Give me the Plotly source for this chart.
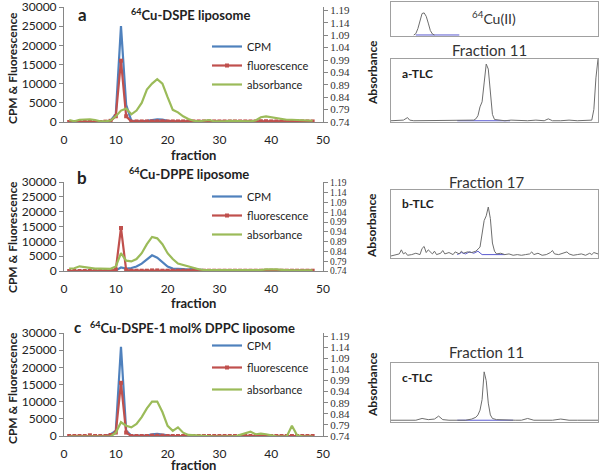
import plotly.graph_objects as go

W, H = 601, 474

fractions = list(range(1, 49))

# panel a: 64Cu-DSPE liposome
a_cpm = [0, 0, 0, 0, 0, 0, 0, 100, 400, 2000, 25000, 4500, 300, 200, 200, 300, 500, 700,
         600, 300, 200, 100, 100, 100, 100, 100, 100, 100, 100, 100, 100, 100, 100, 100, 100, 100,
         100, 100, 100, 100, 100, 100, 100, 100, 100, 100, 100, 100]
a_fluor = [0, 0, 0, 0, 0, 0, 0, 100, 300, 1500, 16000, 1500, 100, 150, 150, 150, 150, 200,
           200, 150, 150, 150, 150, 150, 150, 150, 150, 150, 150, 150, 150, 150, 150, 150, 150, 150,
           150, 200, 200, 150, 150, 150, 150, 150, 150, 150, 150, 150]
a_abs = [0.748, 0.743, 0.749, 0.751, 0.751, 0.748, 0.743, 0.743, 0.746, 0.763, 0.786, 0.794,
         0.771, 0.786, 0.817, 0.871, 0.895, 0.913, 0.895, 0.840, 0.789, 0.779, 0.763, 0.752,
         0.745, 0.743, 0.746, 0.748, 0.743, 0.742, 0.743, 0.745, 0.745, 0.743, 0.742, 0.743,
         0.746, 0.759, 0.763, 0.759, 0.754, 0.751, 0.749, 0.749, 0.749, 0.748, 0.746, 0.745]

# panel b: 64Cu-DPPE liposome
b_cpm = [0, 0, 0, 0, 0, 0, 0, 0, 0, 200, 1200, 800, 1000, 1500, 2500, 4000, 5300, 4500,
         3000, 1500, 800, 600, 600, 500, 800, 500, 200, 100, 100, 100, 100, 100, 100, 100, 100, 100,
         100, 100, 100, 100, 100, 100, 100, 100, 100, 100, 100, 100]
b_fluor = [0, 0, 0, 0, 0, 0, 0, 0, 0, 500, 14500, 300, 100, 100, 100, 100, 200, 200,
           100, 100, 100, 100, 100, 100, 100, 100, 100, 100, 100, 100, 100, 100, 100, 100, 100, 100,
           100, 100, 100, 100, 100, 100, 100, 100, 100, 100, 100, 100]
b_abs = [0.752, 0.754, 0.764, 0.760, 0.755, 0.752, 0.752, 0.751, 0.751, 0.763, 0.831, 0.793,
         0.789, 0.801, 0.831, 0.877, 0.914, 0.907, 0.877, 0.831, 0.801, 0.778, 0.770, 0.763,
         0.754, 0.749, 0.745, 0.745, 0.746, 0.745, 0.745, 0.745, 0.745, 0.743, 0.743, 0.743,
         0.743, 0.745, 0.748, 0.749, 0.748, 0.746, 0.743, 0.743, 0.743, 0.743, 0.743, 0.743]

# panel c: 64Cu-DSPE-1 mol% DPPC liposome
c_cpm = [0, 0, 0, 0, 0, 0, 0, 0, 500, 1500, 26000, 1500, 100, 100, 100, 100, 500, 600,
         400, 100, 0, 0, 0, 0, 0, 0, 0, 0, 0, 0, 0, 0, 0, 0, 0, 0,
         0, 0, 0, 0, 0, 0, 0, 0, 0, 0, 0, 0]
c_fluor = [0, 0, 0, 0, 200, 0, 0, 0, 300, 1000, 15500, 1000, 0, 0, 0, 0, 100, 100,
           100, 0, 0, 0, 0, 0, 0, 0, 0, 0, 0, 0, 0, 0, 0, 0, 0, 0,
           0, 0, 0, 0, 0, 0, 0, 0, 0, 0, 0, 0]
c_abs = [0.737, 0.737, 0.737, 0.737, 0.737, 0.737, 0.737, 0.737, 0.738, 0.755, 0.802, 0.786,
         0.779, 0.794, 0.825, 0.864, 0.895, 0.895, 0.848, 0.786, 0.763, 0.779, 0.755, 0.745,
         0.743, 0.743, 0.738, 0.737, 0.737, 0.737, 0.737, 0.737, 0.738, 0.745, 0.752, 0.759,
         0.748, 0.751, 0.748, 0.743, 0.738, 0.737, 0.738, 0.786, 0.743, 0.738, 0.737, 0.737]

abs_ticks = [0.74, 0.79, 0.84, 0.89, 0.94, 0.99, 1.04, 1.09, 1.14, 1.19]
frac_ticks = [0, 10, 20, 30, 40, 50]

# TLC scans (position along strip, relative signal)
tlc_cu_pos = [11, 12, 13, 14, 15, 16, 17, 18, 19, 20, 21]
tlc_cu_signal = [0.03, 0.07, 0.22, 0.48, 0.66, 0.68, 0.58, 0.38, 0.16, 0.06, 0.03]
tlc_cu_base_pos = [12, 33]
tlc_cu_base = [0.03, 0.03]

tlc_a_pos = [0, 3, 6, 8, 9, 11, 14, 17, 20, 24, 28, 31, 34, 37, 40, 41, 42, 43, 44, 45, 46, 47,
             48, 49, 50, 52, 55, 58, 62, 66, 70, 74, 76, 78, 82, 86, 90, 94, 96, 97, 98, 99, 100]
tlc_a_signal = [0.02, 0.02, 0.03, 0.07, 0.03, 0.02, 0.02, 0.03, 0.02, 0.02, 0.03, 0.02, 0.02,
                0.03, 0.03, 0.05, 0.1, 0.24, 0.32, 0.62, 0.92, 0.84, 0.42, 0.12, 0.04, 0.03,
                0.02, 0.03, 0.02, 0.02, 0.03, 0.02, 0.05, 0.02, 0.02, 0.03, 0.02, 0.02, 0.02,
                0.03, 0.2, 0.7, 1.0]
tlc_a_base_pos = [32, 57.5]
tlc_a_base = [0.02, 0.02]

tlc_b_pos = [0, 2, 4, 5, 6, 7, 8, 10, 12, 14, 15, 16, 17, 18, 20, 21, 22, 24, 25, 26, 28, 30,
             31, 33, 34, 35, 37, 39, 41, 43, 44, 45, 46, 47, 48, 49, 50, 51, 53, 55, 57, 59, 61,
             63, 65, 67, 68, 69, 71, 73, 75, 77, 78, 79, 81, 83, 85, 86, 88, 90, 92, 94, 96, 97,
             98, 100]
tlc_b_signal = [0.03, 0.04, 0.06, 0.12, 0.06, 0.08, 0.04, 0.05, 0.07, 0.05, 0.14, 0.17, 0.08,
                0.12, 0.06, 0.1, 0.05, 0.07, 0.11, 0.06, 0.08, 0.05, 0.09, 0.06, 0.1, 0.07, 0.09,
                0.08, 0.1, 0.16, 0.35, 0.55, 0.62, 0.75, 0.58, 0.22, 0.1, 0.06, 0.07, 0.05, 0.06,
                0.04, 0.05, 0.04, 0.05, 0.06, 0.09, 0.05, 0.07, 0.04, 0.05, 0.08, 0.11, 0.06, 0.05,
                0.07, 0.09, 0.06, 0.04, 0.05, 0.06, 0.04, 0.07, 0.05, 0.08, 0.06]
tlc_b_base_pos = [32, 34, 36, 38, 40, 42, 44, 55]
tlc_b_base = [0.05, 0.08, 0.06, 0.09, 0.07, 0.1, 0.05, 0.05]

tlc_c_pos = [0, 4, 8, 12, 15, 18, 21, 23, 25, 28, 32, 36, 39, 41, 42, 43, 44, 45, 46, 47, 48,
             49, 51, 55, 60, 63, 66, 69, 73, 78, 82, 86, 90, 94, 98, 100]
tlc_c_signal = [0.03, 0.03, 0.04, 0.03, 0.06, 0.04, 0.05, 0.1, 0.04, 0.03, 0.03, 0.03, 0.05,
                0.08, 0.12, 0.2, 0.38, 0.85, 0.7, 0.32, 0.12, 0.06, 0.04, 0.03, 0.03, 0.03, 0.06,
                0.03, 0.03, 0.03, 0.05, 0.03, 0.03, 0.03, 0.04, 0.03]
tlc_c_base_pos = [32, 59]
tlc_c_base = [0.03, 0.03]

BLUE, RED, GREEN = '#4F81BD', '#C0504D', '#9BBB59'
FONT = 'Lato, Carlito, Calibri, sans-serif'
AXIS = '#868686'


def px_x(p):
    return p / W


def px_y(p):
    return 1 - p / H


fig = go.Figure()
layout = dict(width=W, height=H, margin=dict(l=0, r=0, t=0, b=0, autoexpand=False),
              paper_bgcolor='white', plot_bgcolor='rgba(0,0,0,0)',
              font=dict(family=FONT, size=12, color='#222'), showlegend=True)

# left panels: (no, top px, bottom px, secondary top, data..., legend, legend top, gap, right tick size)
panels = [
    (1, 7, 122, 1.2037, a_cpm, a_fluor, a_abs, 'legend', 32, 0, 11),
    (2, 182, 271, 1.195, b_cpm, b_fluor, b_abs, 'legend2', 182, 0, 9.5),
    (3, 333, 436, 1.2035, c_cpm, c_fluor, c_abs, 'legend3', 331, 3, 11),
]

for i, top, bot, atop, cpm, flu, ab, leg, legtop, gap, rsize in panels:
    xa = 'x' if i == 1 else f'x{i}'
    ya = 'y' if i == 1 else f'y{2 * i - 1}'
    ya2 = f'y{2 * i}'
    fig.add_trace(go.Scatter(x=fractions, y=cpm, name='CPM', mode='lines',
                             line=dict(color=BLUE, width=2.2), xaxis=xa, yaxis=ya,
                             legend=leg, legendgroup=f'{leg}cpm'))
    fig.add_trace(go.Scatter(x=fractions, y=flu, name='fluorescence', mode='lines+markers',
                             line=dict(color=RED, width=2.2),
                             marker=dict(symbol='square', size=4, color=RED),
                             xaxis=xa, yaxis=ya, legend=leg, legendgroup=f'{leg}flu'))
    fig.add_trace(go.Scatter(x=fractions, y=ab, name='absorbance', mode='lines',
                             line=dict(color=GREEN, width=2.2), xaxis=xa, yaxis=ya2,
                             legend=leg, legendgroup=f'{leg}abs'))

    xkey = 'xaxis' if i == 1 else f'xaxis{i}'
    ykey = 'yaxis' if i == 1 else f'yaxis{2 * i - 1}'
    y2key = f'yaxis{2 * i}'
    dom_y = [px_y(bot), px_y(top)]
    layout[xkey] = dict(domain=[px_x(64), px_x(323)], range=[0, 50], tickvals=frac_ticks,
                        anchor=ya, showline=True, linecolor=AXIS, showgrid=False,
                        zeroline=False, ticks='', ticklabelstandoff=7, automargin=False,
                        ticklabeloverflow='allow', tickfont=dict(size=12, color='#222'))
    layout[ykey] = dict(domain=dom_y, range=[0, 30000], dtick=5000, tickformat='d', anchor=xa,
                        showline=True, linecolor=AXIS, showgrid=False, zeroline=False,
                        ticks='outside', ticklen=4, tickcolor=AXIS, automargin=False,
                        ticklabeloverflow='allow', tickfont=dict(size=12, color='#222'))
    layout[y2key] = dict(overlaying=ya, side='right', anchor=xa, range=[0.74, atop],
                         tickvals=abs_ticks, tickformat='.2f', showline=True, linecolor=AXIS,
                         showgrid=False, zeroline=False, ticks='outside', ticklen=4,
                         tickcolor=AXIS, automargin=False, ticklabeloverflow='allow',
                         tickfont=dict(family='Liberation Serif, serif', size=rsize, color='#333'))
    layout[leg] = dict(x=px_x(207), y=px_y(legtop), xanchor='left', yanchor='top',
                       bgcolor='rgba(0,0,0,0)', font=dict(size=11, color='#222'),
                       itemwidth=30, tracegroupgap=gap)

# TLC boxes: (x axis no, y axis no, top px, bottom px, scan, baseline)
tlc = [
    (4, 7, 2, 36, tlc_cu_pos, tlc_cu_signal, tlc_cu_base_pos, tlc_cu_base),
    (5, 8, 59, 122, tlc_a_pos, tlc_a_signal, tlc_a_base_pos, tlc_a_base),
    (6, 9, 190, 258, tlc_b_pos, tlc_b_signal, tlc_b_base_pos, tlc_b_base),
    (7, 10, 363, 422, tlc_c_pos, tlc_c_signal, tlc_c_base_pos, tlc_c_base),
]
for xi, yi, top, bot, pos, sig, bpos, bsig in tlc:
    fig.add_trace(go.Scatter(x=bpos, y=bsig, mode='lines', line=dict(color='#5a5ad0', width=1),
                             xaxis=f'x{xi}', yaxis=f'y{yi}', showlegend=False))
    fig.add_trace(go.Scatter(x=pos, y=sig, mode='lines', line=dict(color='#6e6e6e', width=1),
                             xaxis=f'x{xi}', yaxis=f'y{yi}', showlegend=False))
    layout[f'xaxis{xi}'] = dict(domain=[px_x(391), px_x(598)], range=[0, 100], anchor=f'y{yi}',
                                showline=True, mirror=True, linecolor='#a0a0a0', automargin=False,
                                showticklabels=False, ticks='', showgrid=False, zeroline=False)
    layout[f'yaxis{yi}'] = dict(domain=[px_y(bot), px_y(top)], range=[0, 1.0], anchor=f'x{xi}',
                                showline=True, mirror=True, linecolor='#a0a0a0', automargin=False,
                                showticklabels=False, ticks='', showgrid=False, zeroline=False)

fig.update_layout(**layout)


def label(text, x, y, size=12, bold=False, angle=0, color='#222', family=FONT, xanchor='center'):
    t = f'<b>{text}</b>' if bold else text
    fig.add_annotation(text=t, x=px_x(x), y=px_y(y), xref='paper', yref='paper',
                       showarrow=False, textangle=angle, xanchor=xanchor, yanchor='middle',
                       font=dict(size=size, color=color, family=family))


# panel letters and titles
label('a', 82, 15, size=17, bold=True)
label('<sup>64</sup>Cu-DSPE liposome', 190, 15, size=13, bold=True)
label('b', 82, 177, size=17, bold=True)
label('<sup>64</sup>Cu-DPPE liposome', 189, 174, size=13, bold=True)
label('c', 77, 327, size=15, bold=True)
label('<sup>64</sup>Cu-DSPE-1 mol% DPPC liposome', 192, 327, size=13, bold=True)

# axis titles
for yc in (68, 237, 388):
    label('CPM &amp; Fluorescence', 12, yc, size=12, bold=True, angle=-90)
for yc in (73, 226, 385):
    label('Absorbance', 372, yc, size=12, bold=True, angle=-90)
for yc in (155, 303, 465):
    label('fraction', 193, yc, size=13, bold=True)

# TLC labels
label('<sup>64</sup>Cu(II)', 494, 18, size=14, color='#333')
label('Fraction 11', 489, 50, size=15, color='#333')
label('a-TLC', 400, 73, size=12, bold=True, xanchor='left')
label('Fraction 17', 487, 182, size=15, color='#333')
label('b-TLC', 400, 203, size=12, bold=True, xanchor='left')
label('Fraction 11', 487, 352, size=15, color='#333')
label('c-TLC', 400, 377, size=12, bold=True, xanchor='left')

fig.write_html('out.html', config={'displayModeBar': False},
               post_script="document.body.style.margin='0';"
                           "document.body.style.overflow='hidden';")
